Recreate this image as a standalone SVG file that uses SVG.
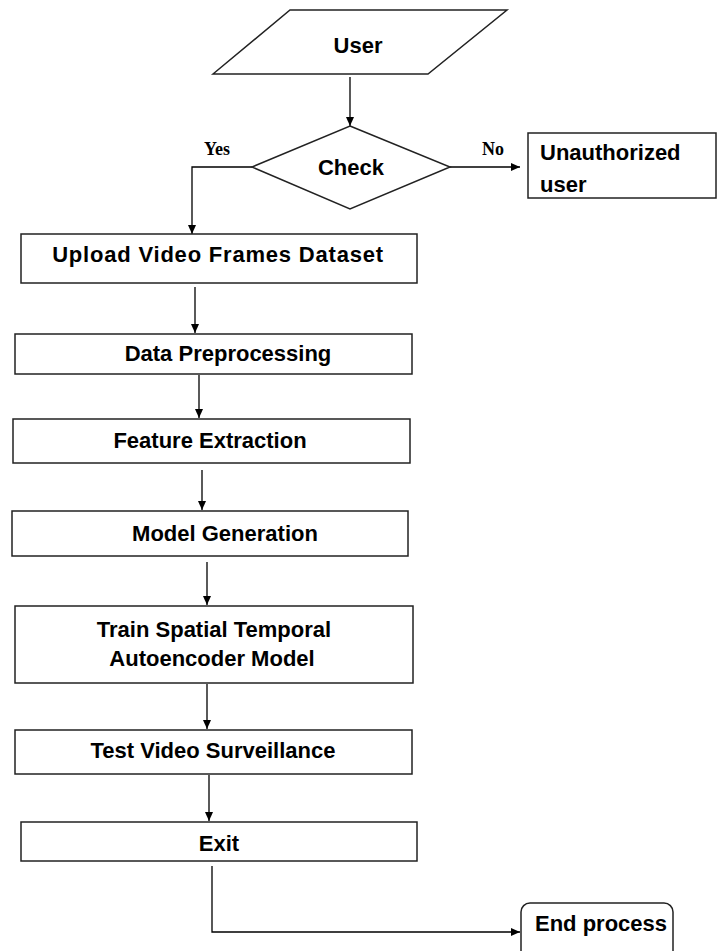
<svg xmlns="http://www.w3.org/2000/svg" width="719" height="951" viewBox="0 0 719 951">
  <defs>
    <marker id="arrow" markerUnits="userSpaceOnUse" markerWidth="10" markerHeight="8" refX="9" refY="4" orient="auto">
      <path d="M0,0 L9,4 L0,8 Z" fill="#000"/>
    </marker>
    <style>
      .shape { fill: #fff; stroke: #222; stroke-width: 1.5; }
      .lbl { font-family: "Liberation Sans", Arial, sans-serif; font-weight: bold; font-size: 22px; fill: #000; }
      .mid { text-anchor: middle; }
      .yn { font-family: "Liberation Serif", "Times New Roman", serif; font-weight: bold; font-size: 18px; fill: #000; }
      .conn { fill: none; stroke: #000; stroke-width: 1.3; }
    </style>
  </defs>
  <rect width="719" height="951" fill="#fff"/>

  <g id="connectors">
    <path class="conn" d="M350,77 V126" marker-end="url(#arrow)"/>
    <path class="conn" d="M252,167 H192 V234" marker-end="url(#arrow)"/>
    <path class="conn" d="M450,167 H520" marker-end="url(#arrow)"/>
    <path class="conn" d="M195,287 V333" marker-end="url(#arrow)"/>
    <path class="conn" d="M199,375 V418" marker-end="url(#arrow)"/>
    <path class="conn" d="M202,470 V510" marker-end="url(#arrow)"/>
    <path class="conn" d="M207,562 V605" marker-end="url(#arrow)"/>
    <path class="conn" d="M207,684 V729" marker-end="url(#arrow)"/>
    <path class="conn" d="M209,775 V821" marker-end="url(#arrow)"/>
    <path class="conn" d="M212,866 V932 H520" marker-end="url(#arrow)"/>
    <text class="yn" x="204" y="155">Yes</text>
    <text class="yn" x="482" y="155">No</text>
  </g>

  <g id="user">
    <polygon class="shape" points="213,74 290,10 507,10 428,74"/>
    <text class="lbl mid" x="358" y="53">User</text>
  </g>

  <g id="check">
    <polygon class="shape" points="350,126 450,167 350,209 252,167"/>
    <text class="lbl mid" x="351" y="175">Check</text>
  </g>

  <g id="unauthorized">
    <rect class="shape" x="528" y="133" width="188" height="65"/>
    <text class="lbl" x="540" y="160" font-size="24">Unauthorized</text>
    <text class="lbl" x="540" y="192" font-size="24">user</text>
  </g>

  <g id="upload">
    <rect class="shape" x="21" y="234" width="396" height="49"/>
    <text class="lbl mid" x="218" y="262" letter-spacing="0.8">Upload Video Frames Dataset</text>
  </g>

  <g id="preprocessing">
    <rect class="shape" x="15" y="334" width="397" height="40"/>
    <text class="lbl mid" x="228" y="361" font-size="23">Data Preprocessing</text>
  </g>

  <g id="feature">
    <rect class="shape" x="13" y="419" width="397" height="44"/>
    <text class="lbl mid" x="210" y="448" font-size="23">Feature Extraction</text>
  </g>

  <g id="model">
    <rect class="shape" x="12" y="511" width="396" height="45"/>
    <text class="lbl mid" x="225" y="541" font-size="22">Model Generation</text>
  </g>

  <g id="train">
    <rect class="shape" x="15" y="606" width="398" height="77"/>
    <text class="lbl mid" x="214" y="637" font-size="24">Train Spatial Temporal</text>
    <text class="lbl mid" x="212" y="666" font-size="24">Autoencoder Model</text>
  </g>

  <g id="test">
    <rect class="shape" x="15" y="730" width="397" height="44"/>
    <text class="lbl mid" x="213" y="758" font-size="23.5">Test Video Surveillance</text>
  </g>

  <g id="exit">
    <rect class="shape" x="21" y="822" width="396" height="39"/>
    <text class="lbl mid" x="219" y="851" font-size="24">Exit</text>
  </g>

  <g id="end">
    <rect class="shape" x="521" y="903" width="152" height="62" rx="9" ry="9"/>
    <text class="lbl" x="535" y="931" font-size="18.5">End process</text>
  </g>
</svg>
